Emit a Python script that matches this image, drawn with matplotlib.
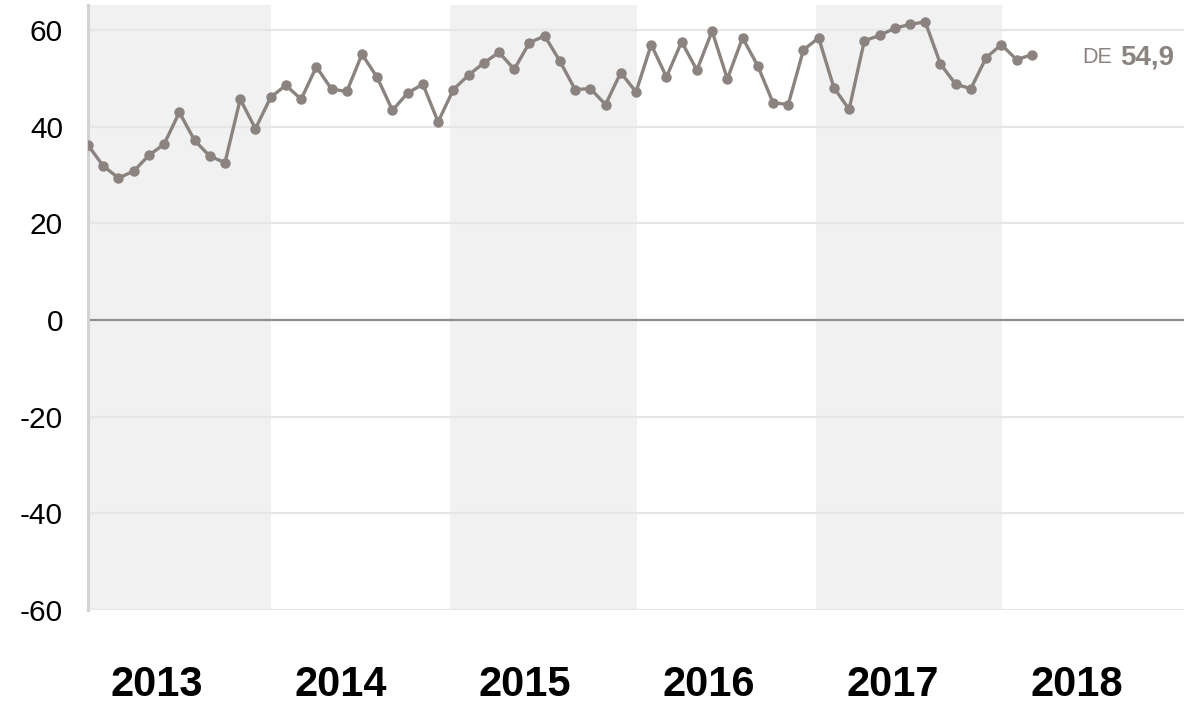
import matplotlib
matplotlib.use("Agg")
import matplotlib.pyplot as plt
import numpy as np

plt.rcParams['font.family'] = ['Liberation Sans', 'DejaVu Sans']

# Monthly values, Jan 2013 .. Mar 2018
values = [36.2, 31.9, 29.4, 30.8, 34.1, 36.4, 43.0, 37.2, 33.9, 32.6, 45.7, 39.6,
          46.1, 48.6, 45.7, 52.4, 47.8, 47.3, 55.0, 50.2, 43.4, 47.0, 48.8, 41.0,
          47.7, 50.7, 53.2, 55.4, 51.9, 57.4, 58.8, 53.6, 47.7, 47.9, 44.6, 51.2,
          47.2, 57.0, 50.3, 57.6, 51.7, 59.8, 49.9, 58.4, 52.6, 45.0, 44.6, 55.9,
          58.4, 48.1, 43.6, 57.8, 58.9, 60.4, 61.2, 61.7, 53.0, 48.8, 47.9, 54.3,
          57.0, 53.9, 54.9]
years = [2013, 2014, 2015, 2016, 2017, 2018]
shaded_years = [2013, 2015, 2017]
yticks = [-60, -40, -20, 0, 20, 40, 60]
label_prefix = "DE"
label_value = "54,9"

line_color = '#8b8380'

fig = plt.figure(figsize=(11.91, 7.06), dpi=100)
ax = fig.add_axes([88/1191, 96/706, (1184-88)/1191, (610-5)/706])

x = np.arange(len(values))
ax.set_xlim(0, 72)
ax.set_ylim(-60, 65.2)

for yr in shaded_years:
    s = (yr - years[0]) * 12
    ax.axvspan(s - 0.2, s + 12.05, color='#f1f1f1', zorder=0, lw=0)

for t in yticks:
    if t == 0:
        ax.axhline(t, color='#958c89', lw=1.6, zorder=1)
    else:
        ax.axhline(t, color='#e6e6e6', lw=1.6, zorder=1)

ax.plot(x, values, color=line_color, lw=2.4, marker='o', ms=6.5,
        markerfacecolor=line_color, markeredgecolor=line_color, zorder=3,
        solid_joinstyle='round')

for sp in ['top', 'right', 'bottom']:
    ax.spines[sp].set_visible(False)
ax.spines['left'].set_color('#d3d3d3')
ax.spines['left'].set_linewidth(2.2)

ax.set_yticks(yticks)
ax.set_yticklabels([str(t) for t in yticks], fontsize=21.5)
ax.tick_params(axis='y', length=0, pad=18)
ax.set_xticks([])

for i, yr in enumerate(years):
    ax.text(i * 12.09 + 4.53, -0.124, str(yr), transform=ax.get_xaxis_transform(),
            ha='center', va='center', fontsize=30, fontweight='bold', color='black')

ax.text(65.3, values[-1] - 0.6, label_prefix, color=line_color, fontsize=15.5,
        ha='left', va='center')
ax.annotate(label_value, xy=(65.3, values[-1] - 0.6), xytext=(27.3, 0), textcoords='offset points',
            color=line_color, fontsize=20, fontweight='bold', ha='left', va='center')

fig.savefig('out.png', dpi=100)
